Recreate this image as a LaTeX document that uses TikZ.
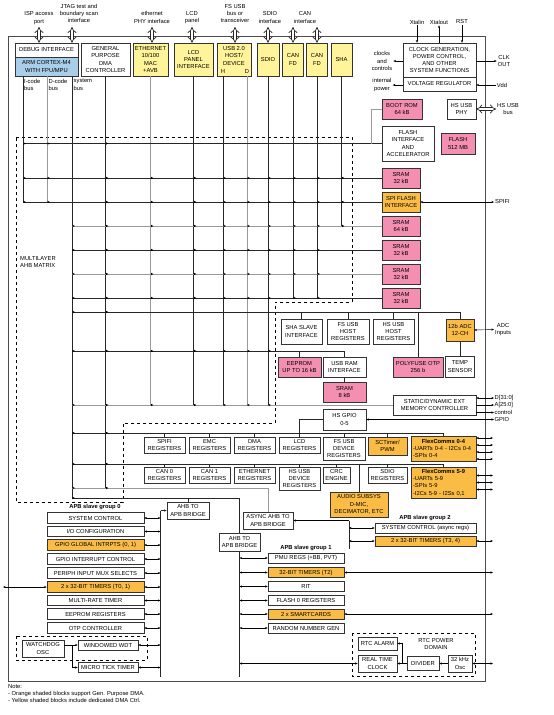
\documentclass[tikz,border=0pt]{standalone}
\usepackage{fontspec}
\setmainfont{Liberation Sans}
\usetikzlibrary{arrows.meta}
\definecolor{pinkc}{RGB}{244,143,177}
\definecolor{orgc}{RGB}{251,188,70}
\definecolor{yelc}{RGB}{255,244,153}
\definecolor{bluec}{RGB}{168,206,234}
\newcommand{\fs}{\fontsize{5.8}{7.2}\selectfont}
\newcommand{\mk}[1]{\fill (#1) ++(.5,-1.2) -- ++(2.5,1.2) -- ++(-2.5,1.2) -- cycle;}
\tikzset{
  box/.style={draw=black!80, line width=.6pt, fill=white, align=center, inner sep=0pt, font=\fs},
  pbox/.style={box, fill=pinkc},
  obox/.style={box, fill=orgc},
  ybox/.style={box, fill=yelc},
  regbox/.style={box, minimum width=41, minimum height=16},
  sram/.style={pbox, minimum width=38, minimum height=20},
  g0box/.style={box, minimum width=97, minimum height=10.5},
  g1box/.style={box, minimum width=76, minimum height=10},
  lbl/.style={font=\fs, align=center, inner sep=1pt},
  bus/.style={black!85, line width=.6pt},
  gbus/.style={black!40, line width=.9pt},
  hol/.style={draw=black!85, double=white, double distance=2.4pt, line width=.7pt, {Implies}-{Implies}},
}
\begin{document}
\begin{tikzpicture}[x=1pt, y=-1pt, >={Stealth[length=2.6pt,width=2.2pt]}]
\useasboundingbox (0,0) rectangle (554,715);
\draw[black!70, line width=.8pt] (8,36) rectangle (485,681);
\draw[dashed, line width=.6pt] (16,137) -- (352,137) -- (352,302) -- (275,302) -- (275,423) -- (123,423) -- (123,502) -- (16,502) -- cycle;
\draw[dashed, line width=.6pt] (16,636) rectangle (147,660);
\draw[dashed, line width=.6pt] (352,633) rectangle (475,676);

\node[box, minimum width=63, minimum height=14] (dbg) at (46.5,50) {DEBUG INTERFACE};
\node[box, fill=bluec, minimum width=63, minimum height=19] (arm) at (46.5,66.5) {ARM CORTEX-M4\\WITH FPU/MPU};
\node[box, minimum width=49, minimum height=33] (gpdma) at (105.5,59.5) {GENERAL\\PURPOSE\\DMA\\CONTROLLER};
\node[ybox, minimum width=35, minimum height=33] (eth) at (150.5,59.5) {ETHERNET\\10/100\\MAC\\+AVB};
\node[ybox, minimum width=39, minimum height=33] (lcd) at (193.5,59.5) {LCD\\PANEL\\INTERFACE};
\node[ybox, minimum width=34, minimum height=33] (usb) at (234,59.5) {USB 2.0\\HOST/\\DEVICE\\~};
\node[lbl, inner sep=0pt] (usbh) at (223,72) {H};
\node[lbl, inner sep=0pt] (usbd) at (247,72) {D};
\node[ybox, minimum width=22, minimum height=33] (sdio) at (268,59.5) {SDIO};
\node[ybox, minimum width=21, minimum height=33] (canA) at (293,59.5) {CAN\\FD};
\node[ybox, minimum width=21, minimum height=33] (canB) at (317,59.5) {CAN\\FD};
\node[ybox, minimum width=21, minimum height=33] (sha) at (341.5,59.5) {SHA};

\node[lbl] (isp) at (39,18) {ISP access\\port};
\node[lbl] (jtag) at (79,13.5) {JTAG test and\\boundary scan\\interface};
\node[lbl] (ephy) at (152,17.5) {ethernet\\PHY interface};
\node[lbl] (lcdp) at (192,17.5) {LCD\\panel};
\node[lbl] (fsb) at (235,13.5) {FS USB\\bus or\\transceiver};
\node[lbl] (sdioi) at (270,17.5) {SDIO\\interface};
\node[lbl] (cani) at (305,17.5) {CAN\\interface};
\coordinate (hy) at (0,27);
\coordinate (canAt) at (293,27);
\coordinate (canBt) at (317,27);
\draw[hol] (isp.south |- hy) -- (isp.south |- dbg.north);
\draw[hol] ([xshift=-7pt]jtag.south |- hy) -- ([xshift=-7pt]jtag.south |- dbg.north);
\draw[hol] (ephy.south |- hy) -- (ephy.south |- eth.north);
\draw[hol] (lcdp.south |- hy) -- (lcdp.south |- lcd.north);
\draw[hol] (fsb.south |- hy) -- (fsb.south |- usb.north);
\draw[hol] (sdio.north |- hy) -- (sdio.north);
\draw[hol] (canAt) -- (canA.north);
\draw[hol] (canBt) -- (canB.north);

\node[box, minimum width=73, minimum height=34] (clk) at (439.5,60) {CLOCK GENERATION,\\POWER CONTROL,\\AND OTHER\\SYSTEM FUNCTIONS};
\node[box, minimum width=73, minimum height=14] (vreg) at (439.5,84) {VOLTAGE REGULATOR};
\node[lbl] (xin) at (417,22) {Xtalin};
\node[lbl] (xout) at (439,22) {Xtalout};
\node[lbl] (rst) at (462,22) {RST};
\draw[->] (xin.south) -- (xin.south |- clk.north);
\draw[->] (xout.south |- clk.north) -- (xout.south);
\draw[->] (rst.south) -- (rst.south |- clk.north);
\node[lbl] (cc) at (382,61) {clocks\\and\\controls};
\draw[->] (clk.west |- cc) -- (cc.east);
\node[lbl] (ip) at (382,85) {internal\\power};
\draw[->] (vreg.west |- ip) -- (ip.east);
\node[lbl] (clko) at (504,61) {CLK\\OUT};
\draw[->] (clk.east |- clko) -- (clko.west);
\node[lbl] (vdd) at (502,85) {Vdd};
\draw[->] (vdd.west) -- (vdd.west -| vreg.east);

\node[pbox, minimum width=40, minimum height=20] (brom) at (402,109) {BOOT ROM\\64 kB};
\node[box, minimum width=29, minimum height=20] (hsphy) at (461.5,109) {HS USB\\PHY};
\node[lbl, anchor=west] (hsbus) at (496,109) {HS USB\\bus};
\draw[hol] (hsphy.east) -- (hsbus.west);
\node[box, minimum width=52, minimum height=35] (flif) at (408,143.5) {FLASH\\INTERFACE\\AND\\ACCELERATOR};
\node[pbox, minimum width=34, minimum height=21] (flash) at (458,143.5) {FLASH\\512 MB};
\node[sram] (sr0) at (401,178) {SRAM\\32 kB};
\node[sram, fill=orgc] (spifi) at (401,202) {SPI FLASH\\INTERFACE};
\node[sram] (sr1) at (401,226) {SRAM\\64 kB};
\node[sram] (sr2) at (401,250) {SRAM\\32 kB};
\node[sram] (sr3) at (401,274) {SRAM\\32 kB};
\node[sram] (sr4) at (401,298) {SRAM\\32 kB};
\node[lbl, anchor=west] (spifil) at (494,202) {SPIFI};
\draw[<->] (spifi.east) -- (spifil.west);

\node[box, minimum width=41, minimum height=25] (shas) at (301.5,331.5) {SHA SLAVE\\INTERFACE};
\node[box, minimum width=42, minimum height=25] (fshost) at (348,331.5) {FS USB\\HOST\\REGISTERS};
\node[box, minimum width=41, minimum height=25] (hshost) at (393.5,331.5) {HS USB\\HOST\\REGISTERS};
\node[obox, minimum width=28, minimum height=22] (adc) at (460,330) {12b ADC\\12-CH};
\node[box, minimum width=29, minimum height=21] (temp) at (460,366.5) {TEMP\\SENSOR};
\node[lbl, anchor=west] (adcin) at (494,329.5) {ADC\\Inputs};
\draw[<->] (adc.east) -- (adcin.west);
\node[pbox, minimum width=43, minimum height=20] (eeprom) at (299.5,367) {EEPROM\\UP TO 16 kB};
\node[box, minimum width=43, minimum height=20] (usbram) at (344.5,367) {USB RAM\\INTERFACE};
\node[pbox, minimum width=43, minimum height=20] (sram8) at (344.5,392) {SRAM\\8 kB};
\node[pbox, minimum width=50, minimum height=20] (otp) at (418,367) {POLYFUSE OTP\\256 b};
\node[box, minimum width=83, minimum height=20] (emc) at (434.5,405) {STATIC/DYNAMIC EXT\\MEMORY CONTROLLER};
\node[box, minimum width=43, minimum height=21] (hsgpio) at (344.5,419.5) {HS GPIO\\0-5};
\node[lbl, anchor=west, inner sep=.5pt] (dbus) at (494,398) {D[31:0]};
\node[lbl, anchor=west, inner sep=.5pt] (abus) at (494,405) {A[25:0]};
\node[lbl, anchor=west, inner sep=.5pt] (cbus) at (494,412.5) {control};
\node[lbl, anchor=west, inner sep=.5pt] (gpiol) at (494,419.5) {GPIO};
\draw[<->] (dbus.west -| emc.east) -- (dbus.west);
\draw[->] (emc.east) -- (abus.west);
\draw[->] (cbus.west -| emc.east) -- (cbus.west);
\draw[<->] (hsgpio.east) -- (gpiol.west);

\node[regbox] (spifireg) at (164.5,445) {SPIFI\\REGISTERS};
\node[regbox] (emcreg) at (209.5,445) {EMC\\REGISTERS};
\node[regbox] (dmareg) at (254.5,445) {DMA\\REGISTERS};
\node[regbox] (lcdreg) at (299.5,445) {LCD\\REGISTERS};
\node[box, minimum width=42, minimum height=23] (fsdev) at (344,448.5) {FS USB\\DEVICE\\REGISTERS};
\node[obox, minimum width=39, minimum height=18] (sct) at (387.5,446) {SCTimer/\\PWM};
\node[obox, minimum width=65, minimum height=25, text width=61, align=left] (fc04) at (443.5,448.5) {\makebox[61pt]{\bfseries FlexComms 0-4}\\-UARTs 0-4 - I2Cs 0-4\\-SPIs 0-4};
\node[regbox] (can0reg) at (164.5,475) {CAN 0\\REGISTERS};
\node[regbox] (can1reg) at (209.5,475) {CAN 1\\REGISTERS};
\node[regbox] (ethreg) at (254.5,475) {ETHERNET\\REGISTERS};
\node[box, minimum width=41, minimum height=23] (hsdev) at (299.5,478.5) {HS USB\\DEVICE\\REGISTERS};
\node[box, minimum width=27, minimum height=16] (crc) at (336.5,475) {CRC\\ENGINE};
\node[regbox, minimum width=39] (sdioreg) at (387.5,475) {SDIO\\REGISTERS};
\node[obox, minimum width=65, minimum height=31, text width=61, align=left] (fc59) at (443.5,482.5) {\makebox[61pt]{\bfseries FlexComms 5-9}\\-UARTs 5-9\\-SPIs 5-9\\-I2Cs 5-9 - I2Ss 0,1};
\node[obox, minimum width=58, minimum height=25] (audio) at (359,504.5) {AUDIO SUBSYS\\D-MIC,\\DECIMATOR, ETC};
\coordinate (ox) at (493,0);
\foreach \s in {10.5,3.5,-3.5,-10.5}
  \draw[<->] ([yshift=\s pt]fc04.east) -- ([yshift=\s pt]fc04.east -| ox);
\foreach \s in {7,0,-7}
  \draw[<->] ([yshift=\s pt]fc59.east) -- ([yshift=\s pt]fc59.east -| ox);

\node[box, minimum width=42, minimum height=17] (br0) at (188,510.5) {AHB TO\\APB BRIDGE};
\node[box, minimum width=50, minimum height=17] (brA) at (268,520.5) {ASYNC AHB TO\\APB BRIDGE};
\node[box, minimum width=41, minimum height=18] (br1) at (239.5,542) {AHB TO\\APB BRIDGE};

\node[lbl, font=\fs\bfseries] (g0l) at (95,507) {APB slave group 0};
\node[g0box] (sysc0) at (95.5,518) {SYSTEM CONTROL};
\node[g0box] (iocfg) at (95.5,531.5) {I/O CONFIGURATION};
\node[g0box, fill=orgc] (gpiogi) at (95.5,545) {GPIO GLOBAL INTRPTS (0, 1)};
\node[g0box] (gpioic) at (95.5,559) {GPIO INTERRUPT CONTROL};
\node[g0box] (pmux) at (95.5,573) {PERIPH INPUT MUX SELECTS};
\node[g0box, fill=orgc] (tmr01) at (95.5,587) {2 x 32-BIT TIMERS (T0, 1)};
\node[g0box] (mrt) at (95.5,600.5) {MULTI-RATE TIMER};
\node[g0box] (eepreg) at (95.5,614) {EEPROM REGISTERS};
\node[g0box] (otpc) at (95.5,628) {OTP CONTROLLER};
\node[box, minimum width=42, minimum height=17] (wdosc) at (43,648.5) {WATCHDOG\\OSC};
\node[box, minimum width=60, minimum height=10] (wwdt) at (108,645) {WINDOWED WDT};
\node[box, minimum width=60, minimum height=9.5] (utick) at (108,667.5) {MICRO TICK TIMER};
\coordinate (g0t) at (160.5,510.5);
\coordinate (g0b) at (160.5,677);
\coordinate (t01o) at (3,587);
\draw[bus] (g0t) -- (g0b);
\draw[bus, ->] (g0t) -- (br0.west);
\foreach \n in {sysc0,iocfg,gpiogi,gpioic,pmux,tmr01,mrt,eepreg,otpc,wwdt,utick}
  \draw[<->] (\n.east) -- (\n.east -| g0t);
\draw[<->] (tmr01.west) -- (t01o);
\draw[->] (wdosc.east |- wwdt) -- (wwdt.west);
\draw[->] ([xshift=8pt]wdosc.east |- wwdt) |- (utick.west);

\node[lbl, font=\fs\bfseries] (g1l) at (306,548) {APB slave group 1};
\node[g1box] (pmu) at (306,558) {PMU REGS (+BB, PVT)};
\node[g1box, fill=orgc] (tmr2) at (306,572.5) {32-BIT TIMERS (T2)};
\node[g1box] (rit) at (306,586.5) {RIT};
\node[g1box] (flash0) at (306,600.5) {FLASH 0 REGISTERS};
\node[g1box, fill=orgc] (smart) at (306,614) {2 x SMARTCARDS};
\node[g1box] (rng) at (306,628) {RANDOM NUMBER GEN};
\coordinate (g1b) at (239.5,677);
\draw[bus] (br1.south) -- (g1b);
\foreach \n in {pmu,tmr2,rit,flash0,smart,rng}
  \draw[<->] (\n.west) -- (\n.west -| g1b);
\draw[<->] (tmr2.east) -- (tmr2.east -| ox);
\draw[<->] (smart.east) -- (smart.east -| ox);

\node[lbl, font=\fs\bfseries] (g2l) at (425,518) {APB slave group 2};
\node[box, minimum width=101, minimum height=10] (sysc2) at (425.5,528) {SYSTEM CONTROL (async regs)};
\node[box, fill=orgc, minimum width=101, minimum height=10] (tmr34) at (425.5,541) {2 x 32-BIT TIMERS (T3, 4)};
\coordinate (g2t) at (349,520.5);
\coordinate (g2b) at (349,549);
\draw[bus] (g2t) -- (g2b);
\draw[->] (g2t) -- (brA.east);
\draw[<->] (g2t |- sysc2) -- (sysc2.west);
\draw[<->] (g2t |- tmr34) -- (tmr34.west);
\draw[<->] (tmr34.east) -- (tmr34.east -| ox);

\node[box, minimum width=39, minimum height=13] (rtcal) at (377.5,643.5) {RTC ALARM};
\node[box, minimum width=39, minimum height=17] (rtc) at (377.5,663.5) {REAL TIME\\CLOCK};
\node[box, minimum width=32, minimum height=14] (divider) at (423,663.5) {DIVIDER};
\node[box, minimum width=24, minimum height=17] (osc32) at (460,663.5) {32 kHz\\Osc};
\node[lbl] (rtcd) at (436,644) {RTC POWER\\DOMAIN};
\draw[->] (osc32.west) -- (divider.east);
\draw[->] (divider.west) -- (rtc.east);
\draw[->] ([xshift=5pt]rtc.east) |- (rtcal.east);
\draw[<->] (osc32.east) -- (osc32.east -| ox);
\draw[<->] (rtc.west -| g1b) -- (rtc.west);

\coordinate (cI) at (23,0);
\coordinate (cD) at (47,0);
\coordinate (cS) at (72,0);
\coordinate (cM) at (gpdma.south);
\coordinate (cE) at (eth.south);
\coordinate (cL) at (lcd.south);
\coordinate (cH) at (usbh |- usb.south);
\coordinate (cU) at (usbd |- usb.south);
\coordinate (cSD) at (sdio.south);
\coordinate (cC0) at (canA.south);
\coordinate (cC1) at (canB.south);
\coordinate (cSH) at (sha.south);
\coordinate (ahbP) at (adc.north |- 0,312);
\coordinate (ahbR) at (usbram.north |- 0,351);
\coordinate (apbA) at (fc04.north |- 0,433);
\coordinate (apbB) at (fc59.north |- 0,464);
\coordinate (apbC) at (brA.north |- 0,488);
\coordinate (apbD) at (br1.north |- 0,498);

\node[lbl, anchor=north west, align=left, inner sep=0pt] (icb) at (24,79) {I-code\\bus};
\node[lbl, anchor=north west, align=left, inner sep=0pt] (dcb) at (48.5,79) {D-code\\bus};
\node[lbl, anchor=north west, align=left, inner sep=0pt] (sysb) at (73.5,79) {system\\bus};
\node[lbl, anchor=north west, align=left, inner sep=0pt] (mtx) at (20,256) {MULTILAYER\\AHB MATRIX};

\draw[bus] (cI |- arm.south) -- (cI |- spifi);
\draw[gbus] (cD |- arm.south) -- (cD |- spifi);
\draw[bus] (cS |- arm.south) -- (cS |- apbD);
\draw[bus] (cM) -- (cM |- apbC);
\draw[gbus] (cE) -- (cE |- emc);
\draw[bus] (cL) -- (cL |- emc);
\draw[bus] (cH) -- (cH |- emc);
\draw[gbus] (cU) -- (cU |- emc);
\draw[bus] (cSD) -- (cSD |- emc);
\draw[bus] (cC0) -- (cC0 |- sr4);
\draw[bus] (cC1) -- (cC1 |- sr4);
\draw[bus] (cSH) -- (cSH |- sr1);

\draw[bus] (cI |- flif) -- (flif.west);
\draw[gbus] ([xshift=-10pt]flif.west) |- (brom.west);
\draw[bus] (cI |- sr0) -- (sr0.west);
\draw[bus] (cI |- spifi) -- (spifi.west);
\draw[gbus] (cS |- sr1) -- (sr1.west);
\draw[bus] (cS |- sr2) -- (sr2.west);
\draw[gbus] (cS |- sr3) -- (sr3.west);
\draw[bus] (cS |- sr4) -- (sr4.west);
\draw[bus] (cS |- ahbP) -- (ahbP) -- (adc.north);
\foreach \n in {shas,fshost,hshost,otp}
  \draw[bus] (\n.north |- ahbP) -- (\n.north);
\draw[bus] (adc.south) -- (temp.north);
\draw[bus] (cS |- ahbR) -- (ahbR) -- (usbram.north);
\draw[bus] (eeprom.north |- ahbR) -- (eeprom.north);
\draw[bus] (usbram.south) -- (sram8.north);
\draw[gbus] (cS |- emc) -- (emc.west);
\draw[bus] (cS |- apbA) -- (apbA) -- (fc04.north);
\foreach \n in {spifireg,emcreg,dmareg,fsdev,sct}
  \draw[bus] (\n.north |- apbA) -- (\n.north);
\draw[bus] (hsgpio.west) -| (lcdreg.north);
\draw[bus] (cS |- apbB) -- (apbB) -- (fc59.north);
\foreach \n in {can0reg,can1reg,ethreg,hsdev,crc,sdioreg,audio}
  \draw[bus] (\n.north |- apbB) -- (\n.north);
\draw[gbus] (cS |- apbC) -- (apbC) -- (brA.north);
\draw[bus] (cS |- apbD) -- (apbD) -- (br1.north);
\draw[bus] (br0.north |- apbD) -- (br0.north);

\foreach \c in {cI,cD,cM} {\mk{\c |- flif}}
\foreach \c in {cI,cD,cM,cE,cL,cH,cU,cSD,cC0,cC1,cSH} {\mk{\c |- sr0} \mk{\c |- spifi}}
\foreach \c in {cS,cM,cE,cL,cH,cU,cSD,cC0,cC1} {\mk{\c |- sr1} \mk{\c |- sr2} \mk{\c |- sr3} \mk{\c |- sr4}}
\mk{cSH |- sr1}
\foreach \c in {cS,cM,cE,cL,cH,cU,cSD} {\mk{\c |- ahbR} \mk{\c |- emc}}
\foreach \c in {cS,cM} {\mk{\c |- ahbP} \mk{\c |- apbA} \mk{\c |- apbB} \mk{\c |- apbC}}
\mk{cS |- apbD}

\node[lbl, anchor=north west, align=left, inner sep=0pt] (note) at (8,684) {Note:\\- Orange shaded blocks support Gen. Purpose DMA.\\- Yellow shaded blocks include dedicated DMA Ctrl.};
\end{tikzpicture}
\end{document}
